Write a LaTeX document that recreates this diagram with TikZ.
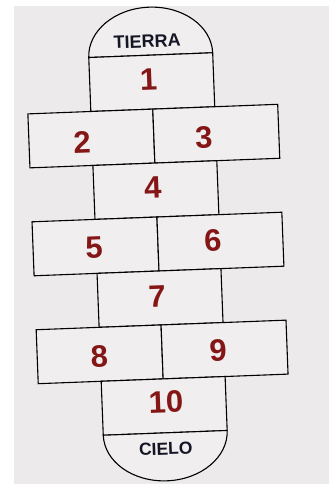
\documentclass[tikz,border=0pt]{standalone}
\usepackage{fontspec}
\setmainfont{Liberation Sans}
\usepackage{tikz}
\definecolor{papercolor}{RGB}{236,234,234}
\definecolor{cellcolor}{RGB}{240,238,238}
\definecolor{numcolor}{RGB}{132,22,22}
\definecolor{labelcolor}{RGB}{20,22,38}
\tikzset{
  cellbox/.style={draw=black, line width=1.1pt, fill=cellcolor},
  cellnum/.style={text=numcolor, inner sep=0pt, font=\fontsize{31}{31}\selectfont\bfseries},
  endlabel/.style={text=labelcolor, inner sep=0pt, font=\fontsize{18}{18}\selectfont\bfseries}
}

\begin{document}
\begin{tikzpicture}[x=1pt,y=1pt]
\fill[white] (0,0) rectangle (329,-484);
\fill[papercolor] (14,-6) rectangle (329,-484);
\useasboundingbox (0,0) rectangle (329,-484);
\begin{scope}[shift={(158,-245)}, rotate=2.2, transform shape]
% tierra
\draw[cellbox] (-62,190) arc[start angle=180, end angle=0, x radius=62, y radius=48] -- cycle;
\node[endlabel] (tierra) at (-3,204) {TIERRA};
% single and double squares
\draw[cellbox] (-62,136) rectangle (62,190);
\node[cellnum] (n1) at (-3,166) {1};
\draw[cellbox] (-125,82) rectangle (0,136);
\node[cellnum] (n2) at (-72,105) {2};
\draw[cellbox] (0,82) rectangle (125,136);
\node[cellnum] (n3) at (50,106) {3};
\draw[cellbox] (-62,28) rectangle (62,82);
\node[cellnum] (n4) at (-3,58) {4};
\draw[cellbox] (-125,-26) rectangle (0,28);
\node[cellnum] (n5) at (-64,0) {5};
\draw[cellbox] (0,-26) rectangle (125,28);
\node[cellnum] (n6) at (55,2) {6};
\draw[cellbox] (-62,-80) rectangle (62,-26);
\node[cellnum] (n7) at (-3,-51) {7};
\draw[cellbox] (-125,-134) rectangle (0,-80);
\node[cellnum] (n8) at (-63,-109) {8};
\draw[cellbox] (0,-134) rectangle (125,-80);
\node[cellnum] (n9) at (56,-108) {9};
\draw[cellbox] (-62,-188) rectangle (62,-134);
\node[cellnum] (n10) at (2,-157) {10};
% cielo
\draw[cellbox] (-62,-188) arc[start angle=180, end angle=360, x radius=62, y radius=48] -- cycle;
\node[endlabel, font=\fontsize{17.5}{17.5}\selectfont\bfseries] (cielo) at (0,-204) {CIELO};
\end{scope}
\end{tikzpicture}
\end{document}
